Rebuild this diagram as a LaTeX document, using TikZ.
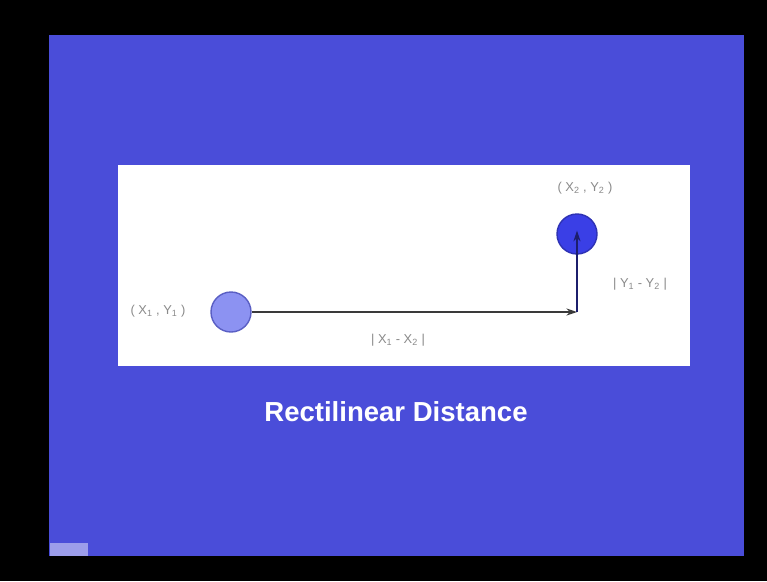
\documentclass[tikz,border=0pt]{standalone}
\usepackage{fontspec}
\setmainfont{Liberation Sans}
\definecolor{SlideBlack}{HTML}{000000}
\definecolor{SlideBlue}{HTML}{4A4DD9}
\definecolor{SlideWhite}{HTML}{FFFFFF}
\definecolor{PointLight}{HTML}{8C92F2}
\definecolor{PointLightEdge}{HTML}{5A5FC4}
\definecolor{PointDark}{HTML}{3A3FE6}
\definecolor{PointDarkEdge}{HTML}{2E32B4}
\definecolor{LabelGray}{HTML}{8A8A8A}
\definecolor{LineGray}{HTML}{3A3A3A}
\usetikzlibrary{arrows.meta, positioning, calc}
\tikzset{
    % point markers
    point light/.style={
        circle,
        draw=PointLightEdge,
        fill=PointLight,
        line width=1.2pt,
        minimum size=1.2cm,
        inner sep=0pt
    },
    point dark/.style={
        circle,
        draw=PointDarkEdge,
        fill=PointDark,
        line width=1.2pt,
        minimum size=1.2cm,
        inner sep=0pt
    },
    coord label/.style={
        text=LabelGray,
        font=\fontsize{11}{13}\selectfont,
        inner sep=1pt
    },
    arrow style/.style={
        -{Stealth[length=9pt,width=6pt]},
        line width=1.2pt,
        LineGray
    }
}

\begin{document}
\begin{tikzpicture}[x=0.03cm, y=-0.03cm]
        % Frame and slide
        \fill[SlideBlack] (0,0) rectangle (767,581);
        \useasboundingbox (0,0) rectangle (767,581);
        \fill[SlideBlue] (49,35) rectangle (744,556);
        \fill[SlideBlue!55!white] (50,543) rectangle (88,556);

        % Drawing area
        \fill[SlideWhite] (118,165) rectangle (690,366);

        % Points
        \node[point light] (p1) at (231,312) {};
        \node[point dark] (p2) at (577,234) {};
        \coordinate (corner) at (577,312);

        % Labels
        \node[coord label] (p1 label) at (158,311) {( X\textsubscript{1} , Y\textsubscript{1} )};
        \node[coord label] (p2 label) at (585,188) {( X\textsubscript{2} , Y\textsubscript{2} )};
        \node[coord label] (dx label) at (398,340) {| X\textsubscript{1} - X\textsubscript{2} |};
        \node[coord label] (dy label) at (640,284) {| Y\textsubscript{1} - Y\textsubscript{2} |};

        % Rectilinear path
        \draw[arrow style] (p1) -- (corner);
        \draw[arrow style, PointDarkEdge!60!black] (corner) -- ([yshift=0.1cm]p2.center);

        % Title
        \node[text=SlideWhite, font=\fontsize{23.5}{28}\selectfont\bfseries] (title) at (396,412) {Rectilinear Distance};
    \end{tikzpicture}
\end{document}
